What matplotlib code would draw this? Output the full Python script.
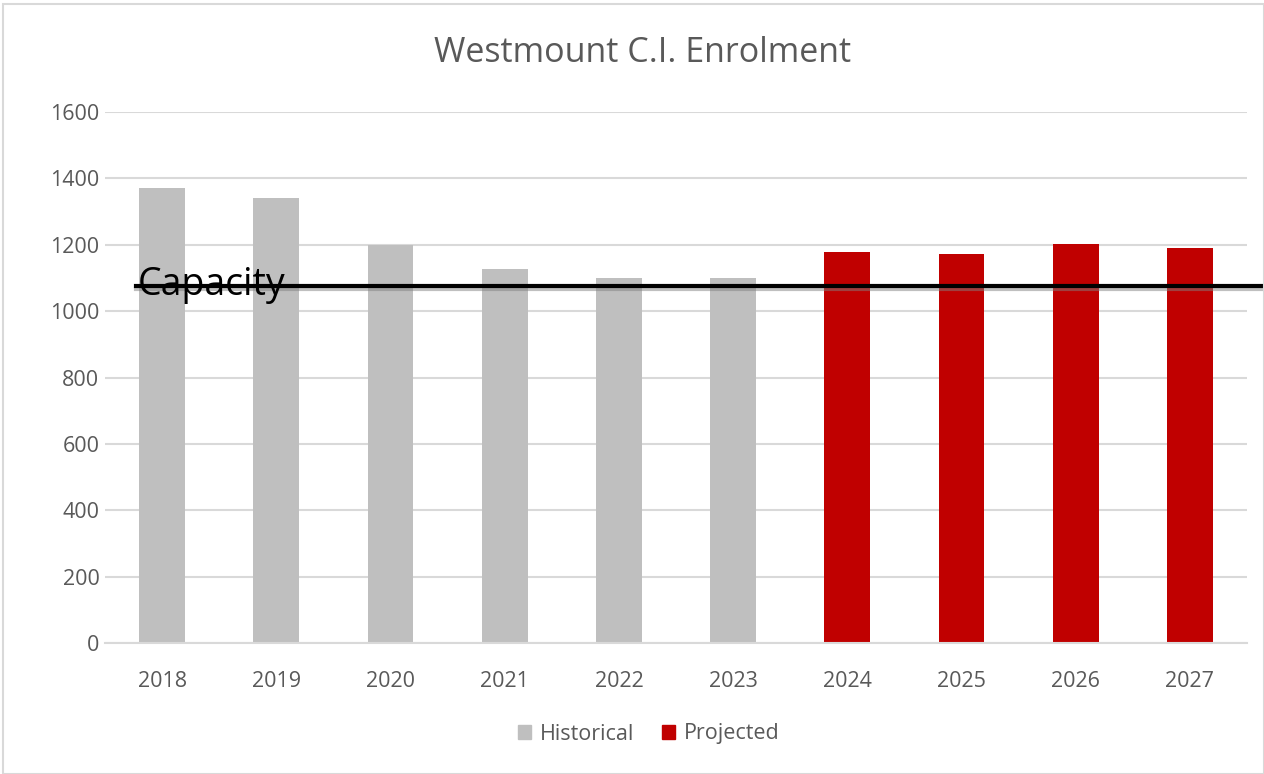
import matplotlib
matplotlib.use("Agg")
import matplotlib.pyplot as plt
import matplotlib.patheffects as pe
from matplotlib.patches import Patch, Rectangle

years = ["2018", "2019", "2020", "2021", "2022", "2023", "2024", "2025", "2026", "2027"]
historical = [1371, 1342, 1200, 1126, 1100, 1100, None, None, None, None]
projected = [None, None, None, None, None, None, 1177, 1172, 1201, 1189]
capacity = 1076
yticks = [0, 200, 400, 600, 800, 1000, 1200, 1400, 1600]

GRAY = "#BFBFBF"
RED = "#C00000"
TXT = "#595959"

plt.rcParams['font.family'] = ['Open Sans', 'DejaVu Sans']

fig = plt.figure(figsize=(12.64, 7.74), dpi=100)
W, H = 1264, 774
ax = fig.add_axes([105 / W, 1 - 643 / H, 1142 / W, 531 / H])

# outer border
fig.patches.append(Rectangle((3 / W, 0), 1 - 3 / W, 1 - 4 / H, transform=fig.transFigure,
                             fill=False, edgecolor="#D9D9D9", linewidth=1.5))

x = list(range(len(years)))
hx = [i for i, v in zip(x, historical) if v is not None]
hv = [v for v in historical if v is not None]
px = [i for i, v in zip(x, projected) if v is not None]
pv = [v for v in projected if v is not None]
ax.bar(hx, hv, width=0.4, color=GRAY, zorder=2)
ax.bar(px, pv, width=0.4, color=RED, zorder=2)

ax.set_xlim(-0.5, len(years) - 0.5)
ax.set_ylim(0, 1600)
ax.set_yticks(yticks)
ax.set_yticklabels([str(t) for t in yticks])
ax.set_xticks(x)
ax.set_xticklabels(years)
ax.tick_params(axis='both', length=0, labelsize=15.5, colors=TXT)
ax.tick_params(axis='y', pad=4)
ax.tick_params(axis='x', pad=20)
ax.yaxis.grid(True, color="#D9D9D9", linewidth=1.5, zorder=0)
ax.set_axisbelow(True)
for s in ["top", "right", "left"]:
    ax.spines[s].set_visible(False)
ax.spines["bottom"].set_color("#D9D9D9")
ax.spines["bottom"].set_linewidth(1.5)

# capacity line
ax.axhline(capacity, xmin=(136 - 105) / 1142, xmax=(1264 - 105) / 1142, color="black",
           linewidth=3, clip_on=False, zorder=4,
           path_effects=[pe.SimpleLineShadow(offset=(0, -2.5), shadow_color="gray", alpha=0.5),
                         pe.Normal()])
ax.text((138 - 105) / 1142, capacity - 27, "Capacity", fontsize=27, color="black",
        ha="left", va="baseline", zorder=5,
        transform=ax.get_yaxis_transform())

fig.text(643 / W, 1 - 53 / H, "Westmount C.I. Enrolment", ha="center", va="center",
         fontsize=24.5, color=TXT)

handles = [Patch(color=GRAY, label="Historical"), Patch(color=RED, label="Projected")]
fig.legend(handles=handles, loc="center", bbox_to_anchor=(649 / W, 1 - 734 / H), ncol=2,
           frameon=False, fontsize=15.5, handlelength=0.6, handleheight=0.6,
           handletextpad=0.4, columnspacing=1.3, labelcolor=TXT)

fig.savefig("out.png", dpi=100)
